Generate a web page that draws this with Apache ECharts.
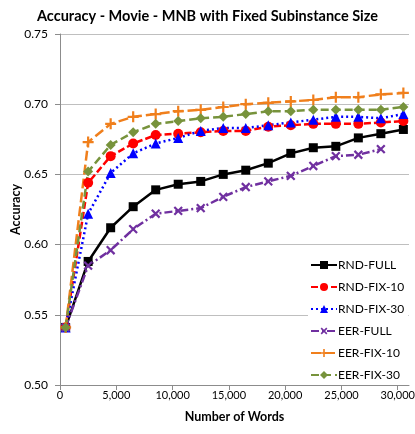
<!DOCTYPE html>
<html>
<head>
<meta charset="utf-8">
<script src="https://cdn.jsdelivr.net/npm/echarts@6/dist/echarts.min.js"></script>
<style>
  html, body { margin: 0; padding: 0; background: #fff; }
  #chart { width: 415px; height: 434px; }
</style>
</head>
<body>
<div id="chart"></div>
<script>
// number of words at each sample
const words = [500, 2500, 4500, 6500, 8500, 10500, 12500, 14500, 16500, 18500, 20500, 22500, 24500, 26500, 28500, 30500]

const rndFull = [0.541, 0.588, 0.612, 0.627, 0.639, 0.643, 0.645, 0.650, 0.653, 0.658, 0.665, 0.669, 0.670, 0.676, 0.679, 0.682]
const rndFix10 = [0.541, 0.644, 0.663, 0.672, 0.678, 0.679, 0.680, 0.681, 0.681, 0.684, 0.685, 0.686, 0.686, 0.686, 0.687, 0.688]
const rndFix30 = [0.541, 0.622, 0.651, 0.665, 0.672, 0.676, 0.681, 0.683, 0.683, 0.685, 0.687, 0.689, 0.691, 0.691, 0.690, 0.693]
const eerFull = [0.541, 0.585, 0.596, 0.611, 0.622, 0.624, 0.626, 0.634, 0.641, 0.645, 0.649, 0.656, 0.663, 0.664, 0.668]
const eerFix10 = [0.541, 0.673, 0.686, 0.691, 0.693, 0.695, 0.696, 0.698, 0.700, 0.701, 0.702, 0.703, 0.705, 0.705, 0.707, 0.708]
const eerFix30 = [0.541, 0.652, 0.671, 0.680, 0.686, 0.688, 0.690, 0.691, 0.693, 0.695, 0.695, 0.696, 0.696, 0.696, 0.696, 0.698]

const xTicks = [0, 5000, 10000, 15000, 20000, 25000, 30000]

const FONT = 'Lato'
const plus = 'path://M4,0H6V10H4ZM0,4H10V6H0Z'

const toPairs = (vals) => vals.map((v, i) => [words[i], v])

const makeSeries = (name, vals, color, type, symbol, size, extra) => ({
  name,
  type: 'line',
  data: toPairs(vals),
  symbol,
  symbolSize: size,
  showSymbol: true,
  lineStyle: { color, width: 2.5, type, cap: 'butt' },
  itemStyle: { color, borderColor: color, borderWidth: 0 },
  emphasis: { disabled: true },
  animation: false,
  ...extra
})

const chart = echarts.init(document.getElementById('chart'))

chart.setOption({
  backgroundColor: '#fff',
  textStyle: { fontFamily: FONT },
  title: {
    text: 'Accuracy - Movie - MNB with Fixed Subinstance Size',
    left: 'center',
    top: 4,
    textStyle: { fontFamily: FONT, fontSize: 14.5, fontWeight: 'bold', color: '#000' }
  },
  grid: { left: 60, right: 6, top: 34, bottom: 49, outerBoundsMode: 'none', containLabel: false },
  legend: {
    orient: 'vertical',
    left: 308,
    top: 257,
    itemWidth: 26,
    itemHeight: 10,
    itemGap: 10,
    padding: [2, 4, 2, 2],
    backgroundColor: '#fff',
    textStyle: { fontFamily: FONT, fontSize: 12, color: '#000', padding: [0, 0, 0, -4] },
    data: ['RND-FULL', 'RND-FIX-10', 'RND-FIX-30', 'EER-FULL', 'EER-FIX-10', 'EER-FIX-30']
  },
  xAxis: {
    type: 'value',
    min: 0,
    max: 31000,
    interval: 5000,
    name: 'Number of Words',
    nameLocation: 'middle',
    nameGap: 25,
    nameMoveOverlap: false,
    nameTextStyle: { fontFamily: FONT, fontSize: 12.5, fontWeight: 'bold', color: '#000' },
    axisLine: { lineStyle: { color: '#8c8c8c', width: 1 } },
    axisTick: { show: true, length: 5, lineStyle: { color: '#8c8c8c' }, customValues: xTicks },
    axisLabel: { fontFamily: FONT, fontSize: 11, color: '#000', margin: 5, customValues: xTicks },
    splitLine: { show: false }
  },
  yAxis: {
    type: 'value',
    min: 0.5,
    max: 0.75,
    interval: 0.05,
    name: 'Accuracy',
    nameLocation: 'middle',
    nameGap: 38,
    nameMoveOverlap: false,
    nameTextStyle: { fontFamily: FONT, fontSize: 12.5, fontWeight: 'bold', color: '#000' },
    axisLine: { show: true, lineStyle: { color: '#8c8c8c', width: 1 } },
    axisTick: { show: true, length: 5, lineStyle: { color: '#8c8c8c' } },
    axisLabel: { fontFamily: FONT, fontSize: 12, color: '#000', margin: 12, formatter: (v) => v.toFixed(2) },
    splitLine: { show: true, lineStyle: { color: '#bfbfbf', width: 1 } }
  },
  series: [
    makeSeries('RND-FULL', rndFull, '#000000', 'solid', 'rect', 9),
    makeSeries('RND-FIX-10', rndFix10, '#ff0000', [7, 3], 'circle', 10),
    makeSeries('RND-FIX-30', rndFix30, '#0000ff', [2, 3], 'triangle', 10),
    makeSeries('EER-FULL', eerFull, '#7030a0', [8, 3, 2, 3], plus, 11, { symbolRotate: 45 }),
    makeSeries('EER-FIX-10', eerFix10, '#f07f1c', [10, 4], plus, 11),
    makeSeries('EER-FIX-30', eerFix30, '#77933c', [8, 4], 'diamond', 10)
  ]
})
</script>
</body>
</html>
